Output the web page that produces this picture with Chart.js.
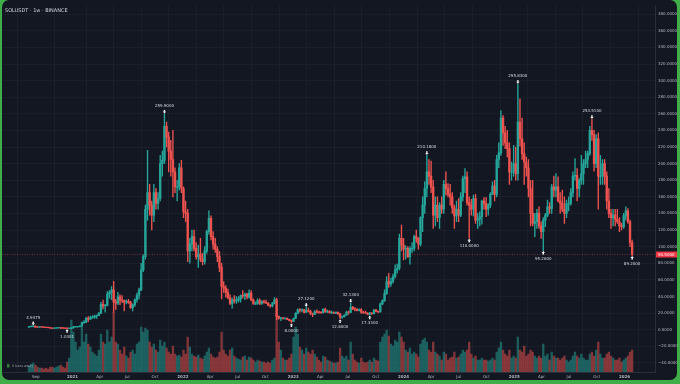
<!DOCTYPE html>
<html><head><meta charset="utf-8">
<style>
html,body{margin:0;padding:0;background:#3fae49;width:680px;height:384px;overflow:hidden;}
#frame{position:absolute;left:2px;top:0;width:675px;height:380px;background:#131722;border-radius:7px;}
#wrap{position:absolute;left:0;top:0;width:680px;height:384px;}
</style>
<script src="https://cdn.jsdelivr.net/npm/chart.js@4.4.0/dist/chart.umd.min.js"></script>
</head><body>
<div id="frame"></div>
<div id="wrap"><canvas id="c" width="680" height="384"></canvas></div>
<script>
// ---------------- DATA (weekly SOLUSDT, Binance) ----------------
const title = 'SOLUSDT · 1w · BINANCE';
const firstWeek = '2020-08-10';
const firstOpen = 2.9;
const highs = [
4.0,4.2,4.9475,4.6,3.3,3.4,3.2,3.0,2.9,2.6,
2.4,1.85,1.9,2.1,2.4,2.5,2.0,1.8,1.6,1.6,2.2,
3.9,3.9,3.8,4.6,9.0,11.0,15.0,15.8,16.5,17.0,
17.5,17.5,21.0,33.0,35.5,30.5,46.0,47.0,52.0,58.3,
36.5,45.0,42.0,41.0,35.5,36.0,36.5,34.0,31.0,37.0,
44.0,50.0,80.0,90.0,150.0,216.0,175.0,155.0,175.0,170.0,
165.0,210.0,215.0,259.9,250.0,238.0,228.0,240.0,195.0,180.0,
200.0,204.0,172.0,155.0,145.0,110.0,120.0,120.0,105.0,102.0,
110.0,92.0,100.0,120.0,143.0,137.0,118.0,110.0,100.0,94.0,
80.0,58.0,53.0,49.0,42.0,38.0,41.0,40.0,40.0,42.0,
47.0,44.0,44.0,48.0,47.0,37.0,33.5,37.0,37.0,35.0,
35.5,35.5,32.5,30.0,33.0,38.5,38.0,16.5,14.8,14.5,
14.5,14.3,12.5,11.5,14.0,20.5,25.0,25.5,25.0,24.5,
27.12,26.0,23.5,20.0,23.0,24.0,22.5,21.5,25.5,26.0,
23.5,23.0,22.5,21.5,21.5,21.5,19.8,16.5,18.0,22.5,
22.5,32.13,28.0,26.5,25.5,25.0,25.5,22.0,22.5,20.5,
21.0,20.5,24.5,24.5,22.5,32.0,36.0,48.0,64.0,68.0,
62.0,67.0,78.0,79.0,115.0,126.0,110.0,101.0,100.0,100.0,
105.0,114.0,120.0,111.0,136.0,160.0,178.0,210.18,205.0,203.0,
180.0,160.0,160.0,153.0,160.0,180.0,190.0,176.0,175.0,165.0,
150.0,155.0,158.0,165.0,185.0,194.0,190.0,160.0,157.0,162.0,
163.0,140.0,142.0,156.0,159.0,159.0,152.0,165.0,178.0,180.0,
210.0,225.0,264.0,258.0,245.0,240.0,225.0,202.0,222.0,220.0,
295.83,278.0,255.0,225.0,208.0,205.0,180.0,180.0,140.0,145.0,
148.0,130.0,135.0,140.0,156.0,153.0,175.0,185.0,188.0,184.0,
165.0,168.0,160.0,156.0,160.0,170.0,190.0,206.0,194.0,182.0,
210.0,205.0,215.0,215.0,245.0,253.51,240.0,235.0,237.0,210.0,
205.0,205.0,190.0,170.0,145.0,145.0,145.0,145.0,135.0,128.0,
140.0,148.0,146.0,132.0,108.0];
const lows = [
2.8,3.2,3.4,2.7,2.6,2.8,2.6,2.6,2.3,2.2,
1.7,1.4,1.35,1.7,1.9,1.55,1.6,1.4,1.0301,1.2,1.45,
1.9,3.0,2.9,3.3,4.1,7.5,8.5,9.7,12.0,13.5,
13.5,13.6,17.0,19.2,25.0,21.0,28.5,38.0,36.0,21.0,
24.5,30.0,30.0,32.5,22.5,31.0,31.5,25.5,22.5,28.0,
33.0,37.0,47.0,70.0,85.0,132.0,138.0,120.0,130.0,145.0,
145.0,155.0,185.0,200.0,220.0,190.0,185.0,160.0,165.0,155.0,
168.0,165.0,135.0,130.0,82.0,80.0,95.0,95.0,85.0,75.0,
82.0,78.0,79.0,92.0,115.0,108.0,97.0,93.0,82.0,70.0,
37.0,45.0,39.0,37.0,30.0,26.0,32.0,31.5,33.0,33.0,
38.0,36.0,37.0,38.0,35.0,30.5,30.0,30.5,30.0,30.5,
32.0,31.5,28.5,27.0,27.5,31.0,12.0,12.5,10.9,12.5,
12.8,12.0,10.5,8.0,9.7,13.3,19.0,21.0,21.5,20.0,
20.5,21.5,18.0,15.5,18.0,20.0,19.5,19.5,20.0,21.0,
20.5,19.8,19.5,19.5,19.3,18.5,12.8,13.5,15.0,17.5,
18.5,20.5,24.0,22.5,22.5,22.5,19.5,19.5,19.5,18.0,
17.33,18.5,19.0,21.5,20.5,21.0,30.0,34.0,42.5,51.0,
52.0,56.0,62.0,68.0,72.0,95.0,84.0,85.0,87.0,79.0,
93.0,95.0,105.0,97.0,101.0,118.0,140.0,160.0,175.0,165.0,
122.0,125.0,130.0,122.0,140.0,140.0,162.0,160.0,150.0,140.0,
122.0,130.0,130.0,136.0,155.0,165.0,150.0,110.0,138.0,137.0,
128.0,122.0,125.0,127.0,145.0,136.0,138.0,147.0,163.0,155.0,
160.0,195.0,210.0,222.0,218.0,208.0,175.0,180.0,185.0,180.0,
180.0,221.0,205.0,175.0,185.0,160.0,125.0,125.0,112.0,122.0,
122.0,110.0,95.26,124.0,136.0,140.0,140.0,160.0,160.0,154.0,
140.0,142.0,128.0,135.0,143.0,150.0,160.0,180.0,155.0,160.0,
175.0,175.0,195.0,195.0,210.0,228.0,191.0,195.0,145.0,175.0,
175.0,175.0,145.0,135.0,122.0,125.0,125.0,128.0,118.0,120.0,
122.0,132.0,128.0,100.0,89.2];
const closes = [
3.6,3.7,4.3,3.0,2.9,3.1,2.9,2.8,2.5,2.3,
1.75,1.5,1.8,1.95,2.2,1.85,1.7,1.5,1.4,1.5,2.1,
3.3,3.4,3.6,4.3,8.5,9.0,13.5,12.5,14.5,15.0,
16.5,17.0,19.8,30.5,28.5,29.0,42.5,45.0,48.0,33.5,
32.0,39.5,35.5,35.0,33.0,34.0,32.5,26.5,30.0,36.0,
41.5,48.0,72.0,88.0,145.0,165.0,150.0,138.0,165.0,152.0,
158.0,200.0,204.0,245.0,232.0,215.0,205.0,190.0,172.0,172.0,
195.0,170.0,142.0,140.0,95.0,103.0,112.0,98.0,88.0,91.0,
85.0,82.0,95.0,118.0,134.0,112.0,103.0,97.0,88.0,75.0,
52.0,50.0,45.0,38.5,31.5,36.0,34.5,35.5,37.0,41.0,
40.5,42.5,39.0,44.0,35.5,31.5,31.5,35.0,31.5,33.5,
33.0,32.0,29.5,28.5,31.5,36.0,16.0,13.5,14.0,13.8,
13.8,12.3,11.2,10.0,13.5,19.8,24.0,23.5,24.0,21.0,
23.0,22.0,19.5,18.5,21.5,21.0,20.8,20.5,24.5,21.5,
22.0,20.5,20.5,20.0,21.0,19.0,15.0,15.5,17.5,21.0,
20.8,27.0,25.0,24.5,23.0,24.0,21.0,20.5,19.8,18.5,
20.0,19.3,23.5,22.0,21.5,31.0,35.0,43.5,58.0,55.0,
58.0,64.0,72.0,74.0,110.0,102.0,97.0,98.0,88.0,98.0,
98.0,112.0,110.0,103.0,135.0,150.0,170.0,190.0,185.0,172.0,
138.0,150.0,135.0,150.0,145.0,175.0,170.0,163.0,160.0,147.0,
137.0,145.0,138.0,160.0,182.0,184.0,153.0,150.0,145.0,158.0,
132.0,133.0,136.0,155.0,152.0,145.0,150.0,163.0,173.0,163.0,
205.0,213.0,255.0,237.0,225.0,218.0,190.0,190.0,200.0,188.0,
250.0,230.0,212.0,202.0,195.0,170.0,140.0,128.0,130.0,140.0,
125.0,118.0,132.0,138.0,148.0,146.0,172.0,168.0,172.0,155.0,
152.0,145.0,140.0,152.0,152.0,165.0,185.0,186.0,170.0,180.0,
188.0,200.0,205.0,212.0,240.0,235.0,200.0,230.0,185.0,185.0,
200.0,185.0,155.0,140.0,135.0,138.0,133.0,130.0,125.0,124.0,
137.0,143.0,130.0,105.0,90.5];
// weekly volume (relative units)
const volumes = [
6,8,9,7,5,4,4,3,4,3,5,5,4,5,6,7,5,4,
10,14,52,40,30,22,25,
45,30,38,28,25,20,18,16,22,
38,30,28,42,30,35,60,
30,28,22,18,25,16,14,20,22,18,
28,30,45,40,44,42,30,25,28,22,20,32,26,30,24,
20,18,26,18,16,17,15,
22,18,35,25,18,16,15,17,14,13,16,20,24,18,15,14,15,20,40,22,18,16,22,
24,16,14,13,12,15,16,12,15,14,12,10,12,11,10,10,9,10,9,12,
14,58,30,22,14,12,12,14,18,
35,45,38,25,22,18,24,20,18,22,18,
15,12,10,16,15,12,11,10,9,9,10,24,16,14,16,12,30,18,12,10,9,14,10,9,10,
12,10,14,12,11,30,35,38,42,36,28,26,32,30,40,35,
30,22,20,24,18,20,18,15,28,32,34,30,22,20,30,20,18,16,12,20,18,12,14,15,
20,14,15,18,22,20,22,30,18,14,16,12,12,14,12,12,11,12,14,12,20,24,30,22,18,16,22,14,16,14,
35,22,20,26,16,18,22,20,16,14,16,14,28,16,18,12,20,16,14,14,12,14,16,12,10,12,16,20,16,14,
18,14,12,12,18,20,16,22,30,18,14,14,18,20,16,14,12,12,14,10,12,14,16,20,22];
const xTickDates = ['2020-09-01','2021-01-01','2021-04-01','2021-07-01','2021-10-01','2022-01-01','2022-04-01','2022-07-01','2022-10-01','2023-01-01','2023-04-01','2023-07-01','2023-10-01','2024-01-01','2024-04-01','2024-07-01','2024-10-01','2025-01-01','2025-04-01','2025-07-01','2025-10-01','2026-01-01'];
const xTickLabels = ['Sep','2021','Apr','Jul','Oct','2022','Apr','Jul','Oct','2023','Apr','Jul','Oct','2024','Apr','Jul','Oct','2025','Apr','Jul','Oct','2026'];
const yTickValues = [-40,-20,0,20,40,60,80,100,120,140,160,180,200,220,240,260,280,300,320,340,360,380];
const highMarks = [2,64,131,152,188,231,266];
const lowMarks = [18,124,147,161,208,243,285];

// ---------------- BUILD ----------------
const UP = '#26a69a', DOWN = '#ef5350';
const UPV = 'rgba(38,166,154,0.5)', DOWNV = 'rgba(239,83,80,0.5)';
const opens = closes.map((c,i)=> i===0 ? firstOpen : closes[i-1]);
const isUp = closes.map((c,i)=> c >= opens[i]);
const t0 = Date.parse(firstWeek);
const weekPos = d => (Date.parse(d) - t0) / (7*86400000);
const xTickPos = xTickDates.map(weekPos);

const wickData = highs.map((h,i)=>({x:i, y:[lows[i], h]}));
const bodyData = closes.map((c,i)=>({x:i, y:[opens[i], c]}));
const volData = volumes.map((v,i)=>({x:i, y:v}));
const colorsC = isUp.map(u=>u?UP:DOWN);
const colorsV = isUp.map(u=>u?UPV:DOWNV);
const fmt = v => (v<0?'\u2212':'') + Math.abs(v).toFixed(4);

const overlay = {
  id:'overlay',
  afterDatasetsDraw(chart){
    const ctx = chart.ctx, xs = chart.scales.x, ys = chart.scales.y, ca = chart.chartArea;
    ctx.save();
    const last = closes[closes.length-1];
    const py = ys.getPixelForValue(last);
    ctx.strokeStyle = 'rgba(239,83,80,0.75)';
    ctx.lineWidth = 0.6;
    ctx.setLineDash([1,1.5]);
    ctx.beginPath(); ctx.moveTo(ca.left, py); ctx.lineTo(ca.right, py); ctx.stroke();
    ctx.setLineDash([]);
    ctx.font = '4px "DejaVu Sans", sans-serif';
    ctx.textAlign = 'center'; ctx.textBaseline = 'middle';
    const arrow = (x, y, up) => {
      ctx.fillStyle = '#ffffff';
      const s = up ? -1 : 1;
      ctx.beginPath();
      ctx.moveTo(x-1.7, y); ctx.lineTo(x+1.7, y); ctx.lineTo(x, y + s*1.9); ctx.closePath(); ctx.fill();
      ctx.fillRect(x-0.7, up ? y : y-1.7, 1.4, 1.7);
    };
    highMarks.forEach(i=>{
      const x = xs.getPixelForValue(i), y = ys.getPixelForValue(highs[i]);
      arrow(x, y-2.3, false);
      ctx.fillStyle = '#d8dae0';
      ctx.fillText(highs[i].toFixed(4), x, y-8);
    });
    lowMarks.forEach(i=>{
      const x = xs.getPixelForValue(i), y = ys.getPixelForValue(lows[i]);
      arrow(x, y+2.3, true);
      ctx.fillStyle = '#d8dae0';
      ctx.fillText(lows[i].toFixed(4), x, y+8);
    });
    ctx.fillStyle = '#f23645';
    ctx.fillRect(ca.right+1, py-3, 21, 6);
    ctx.fillStyle = '#ffffff';
    ctx.textAlign = 'left';
    ctx.fillText(last.toFixed(4), ca.right+3, py+0.3);
    ctx.font = '5px "DejaVu Sans", sans-serif';
    ctx.fillStyle = '#d1d4dc';
    ctx.fillText(title, 5, 10.5);
    ctx.fillStyle = '#2e7d32';
    ctx.fillRect(7, 364, 2.5, 3.5);
    ctx.font = '3.5px "DejaVu Sans", sans-serif';
    ctx.fillStyle = '#9598a1';
    ctx.fillText('0 bars away', 12, 366);
    ctx.restore();
  }
};

new Chart(document.getElementById('c'), {
  type:'bar',
  data:{ datasets:[
    {label:'body', data:bodyData, backgroundColor:colorsC, barThickness:1.7, grouped:false, order:1, yAxisID:'y', minBarLength:0.6},
    {label:'wick', data:wickData, backgroundColor:colorsC, barThickness:0.7, grouped:false, order:2, yAxisID:'y'},
    {label:'volume', data:volData, backgroundColor:colorsV, barThickness:1.7, grouped:false, order:3, yAxisID:'v'}
  ]},
  options:{
    responsive:false, animation:false, events:[],
    layout:{padding:{left:2, top:4, right:0, bottom:0}},
    plugins:{legend:{display:false}, tooltip:{enabled:false}},
    scales:{
      x:{type:'linear', min:-12.76, max:295.8, offset:false,
         afterBuildTicks:s=>{ s.ticks = xTickPos.map(v=>({value:v})); },
         afterFit:s=>{ s.height = 12; },
         grid:{color:'rgba(54,60,78,0.35)', lineWidth:0.6, drawTicks:false},
         border:{display:true, color:'#2a2e39'},
         ticks:{autoSkip:false, maxRotation:0, padding:3, color:'#b2b5be',
           callback:(v,i)=>xTickLabels[i],
           font:(c)=>({family:'"DejaVu Sans", sans-serif', size:4, weight:/^\d{4}$/.test(xTickLabels[c.index]||'')?'bold':'normal'})}
      },
      y:{type:'linear', position:'right', min:-51, max:390.6,
         afterBuildTicks:s=>{ s.ticks = yTickValues.map(v=>({value:v})); },
         afterFit:s=>{ s.width = 25; },
         grid:{color:'rgba(54,60,78,0.35)', lineWidth:0.6, drawTicks:false},
         border:{display:true, color:'#2a2e39'},
         ticks:{padding:3, color:'#b2b5be', font:{family:'"DejaVu Sans", sans-serif', size:4}, callback:v=>fmt(v)}
      },
      v:{type:'linear', display:false, min:0, max:368}
    }
  },
  plugins:[overlay]
});
</script>
</body></html>
